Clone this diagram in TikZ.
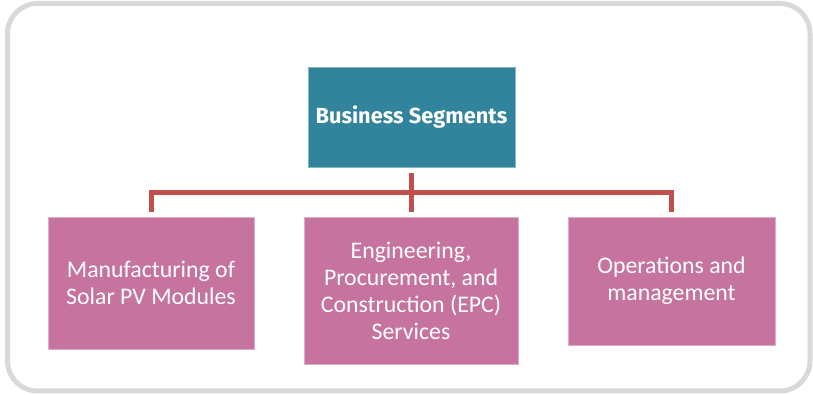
\documentclass[tikz,border=0pt]{standalone}
\usepackage{fontspec}
\setmainfont{Carlito}
\newfontfamily\headfont{Fira Sans}
\usetikzlibrary{positioning,calc}
\definecolor{segteal}{HTML}{31849B}
\definecolor{segpink}{HTML}{C6749F}
\definecolor{linkred}{HTML}{C0504D}
\definecolor{framegray}{HTML}{D9D9D9}
\tikzset{>=latex,
  headbox/.style={fill=segteal,draw=segteal!60!white,line width=0.6pt,text=white,align=center,
    font=\headfont\bfseries\fontsize{21.8}{25}\selectfont,inner sep=0pt},
  unitbox/.style={fill=segpink,draw=segpink!60!white,line width=0.6pt,text=white,align=center,
    font=\fontsize{23.8}{27}\selectfont,inner sep=0pt},
  link/.style={draw=linkred,line width=5pt}}

\begin{document}
\begin{tikzpicture}[x=1pt,y=1pt]
    \useasboundingbox (0,0) rectangle (813,395);
    \draw [framegray,line width=5pt,rounded corners=30pt] (7.5,391.5) rectangle (810,4);
    \node [headbox,minimum width=207pt,minimum height=100pt] (seg) at (411.5,278) {Business Segments};
    \node [unitbox,minimum width=206pt,minimum height=132pt] (mfg) at (151,112) {Manufacturing of\\Solar PV Modules};
    \node [unitbox,minimum width=214pt,minimum height=147pt] (epc) at (411,104.5) {Engineering,\\Procurement, and\\Construction (EPC)\\Services};
    \node [unitbox,minimum width=207pt,minimum height=128pt] (om) at (671.5,114) {Operations and\\management};
    \draw [link,shorten <=6pt,shorten >=5pt] (seg.south) -- (seg.south |- epc.north);
    \draw [link,shorten <=5pt,shorten >=5pt] (mfg.north) |- ([yshift=24.5pt]epc.north) -| (om.north);
  \end{tikzpicture}
\end{document}
